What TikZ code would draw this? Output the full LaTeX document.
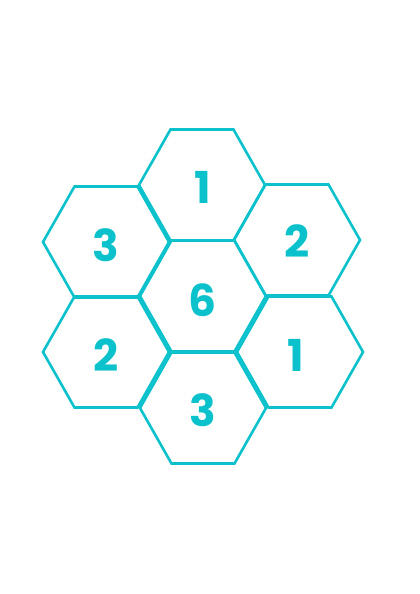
\documentclass[tikz,border=0pt]{standalone}
\usepackage{fontspec}
\setmainfont{Poppins}
\definecolor{hexc}{HTML}{0BC2CC}
\begin{document}
\begin{tikzpicture}[x=1pt,y=-1pt,
  hexline/.style={draw=hexc,line width=2.6pt,line join=miter},
  digit/.style={text=hexc,font=\fontsize{44}{44}\selectfont\bfseries,inner sep=0pt}]
\useasboundingbox (0,0) rectangle (420,594);
\def\r{63}\def\h{55.5}
\newcommand{\hexat}[2]{%
  \draw[hexline] (#1-\r,#2) -- (#1-\r/2,#2-\h) -- (#1+\r/2,#2-\h) -- (#1+\r,#2) -- (#1+\r/2,#2+\h) -- (#1-\r/2,#2+\h) -- cycle;}
\hexat{202}{185}
\hexat{106}{242}
\hexat{297}{240}
\hexat{203}{296}
\hexat{106}{352}
\hexat{300}{352}
\hexat{203}{408}
\node[digit] (t1) at (203,187) {1};
\node[digit] (l3) at (106,245) {3};
\node[digit] (r2) at (297,241) {2};
\node[digit] (c6) at (203,300) {6};
\node[digit] (l2) at (106,355) {2};
\node[digit] (r1) at (296,355) {1};
\node[digit] (b3) at (203,410) {3};
\end{tikzpicture}
\end{document}
